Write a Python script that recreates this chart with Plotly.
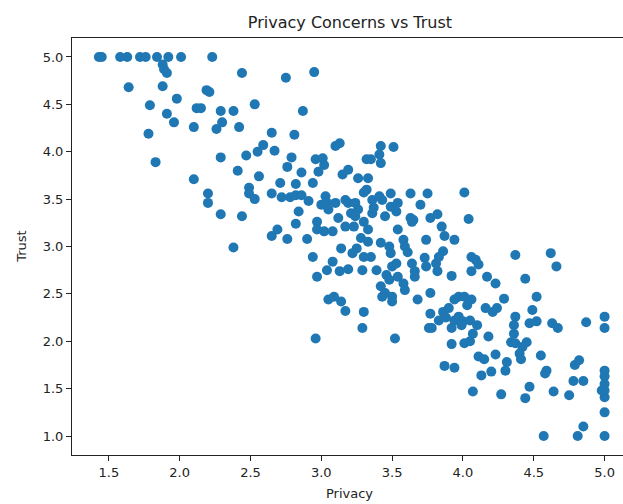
import plotly.graph_objects as go

# Survey scores: privacy concern (x) and trust (y), one entry per respondent
privacy = [
    1.43, 1.45, 1.58, 1.63, 1.72, 1.76, 1.84, 1.92, 2.01, 2.23,
    1.88, 1.89, 1.91, 1.64, 1.88, 2.44, 2.75, 2.95,
    2.19, 2.21, 1.79, 1.98, 1.91, 1.96, 1.78, 1.83,
    2.10, 2.12, 2.15, 2.29, 2.38, 2.53, 2.87,
    2.26, 2.30, 2.42, 2.65, 2.81, 2.29, 2.47, 2.41, 2.10,
    2.55, 2.59, 2.67, 2.79, 2.76, 2.86, 2.96, 3.01, 3.02, 2.98,
    3.10, 3.13, 2.56, 2.49, 2.49, 2.53, 2.20, 2.20, 2.29, 2.44, 2.38,
    2.65, 2.71, 2.82, 2.72, 2.78, 2.82, 2.86, 2.91, 2.94, 2.84, 2.82,
    2.65, 2.69, 2.76, 2.90, 2.94, 2.97, 2.96, 2.97, 2.97, 3.02, 3.08,
    3.03, 3.04, 3.05, 3.10, 3.15, 3.19, 3.26, 3.33, 3.32, 3.30,
    3.41, 3.35, 3.32, 3.42, 3.42, 3.51, 3.36, 3.41, 3.43, 3.37, 3.36,
    3.49, 3.49, 3.54, 3.53, 3.45, 3.17, 3.19, 3.24, 3.26, 3.21, 3.24,
    3.12, 3.17, 3.23, 3.30, 3.33, 3.28, 3.33, 3.14, 3.25, 3.22, 3.35, 3.30,
    3.08, 3.04, 3.13, 3.19, 3.29, 3.39, 3.42, 3.48, 3.49, 3.54, 3.58,
    3.53, 3.50, 3.46, 3.48, 3.54, 3.58, 3.59, 3.42, 3.45, 3.43, 3.50, 3.50,
    3.05, 3.09, 3.14, 3.17, 3.30, 3.29, 3.52,
    3.64, 3.61, 3.59, 3.64, 3.63, 3.65, 3.63, 3.70, 3.75, 3.77, 3.82,
    3.85, 3.87, 3.94, 3.74, 3.73, 3.74, 3.81, 3.82, 3.86, 3.83, 3.66, 3.66,
    3.68, 3.77, 3.92, 4.01, 4.04, 3.77, 3.83, 3.76, 3.78, 3.92, 3.87, 3.94,
    3.90, 3.94, 3.97, 4.01, 4.06, 4.03, 3.97, 4.00, 3.94, 3.92, 3.99, 4.05,
    4.01, 4.05, 4.07, 4.10, 4.06, 4.09, 4.11, 4.06, 4.17, 4.23, 4.16, 4.21,
    4.24, 4.29, 4.18, 4.11, 4.15, 4.23, 4.13, 4.20, 4.07, 4.27, 4.30, 4.31,
    4.37, 4.36, 4.36, 4.34, 4.37, 4.42, 4.45, 4.40, 4.41, 4.37, 4.44, 4.52,
    4.49, 4.47, 4.52, 4.55, 4.59, 4.58, 4.47, 4.44, 4.57, 4.62, 4.66, 4.63,
    4.67, 4.64, 4.75, 4.78, 4.79, 4.82, 4.85, 4.87, 4.81, 4.85,
    5.00, 5.00, 5.00, 5.00, 5.00, 5.00, 5.00, 5.00, 5.00, 4.98,
    3.00, 3.86, 3.88,
]
trust = [
    5.00, 5.00, 5.00, 5.00, 5.00, 5.00, 5.00, 5.00, 5.00, 5.00,
    4.92, 4.87, 4.83, 4.68, 4.69, 4.83, 4.78, 4.84,
    4.65, 4.63, 4.49, 4.56, 4.40, 4.31, 4.19, 3.89,
    4.26, 4.46, 4.46, 4.43, 4.43, 4.50, 4.43,
    4.24, 4.31, 4.26, 4.20, 4.18, 3.94, 3.96, 3.80, 3.71,
    4.00, 4.07, 4.01, 3.94, 3.84, 3.78, 3.92, 3.93, 3.86, 3.79,
    4.06, 4.09, 3.74, 3.62, 3.56, 3.50, 3.56, 3.46, 3.34, 3.32, 2.99,
    3.56, 3.67, 3.66, 3.52, 3.52, 3.54, 3.54, 3.48, 3.67, 3.37, 3.24,
    3.11, 3.18, 3.08, 3.08, 2.89, 2.68, 2.03, 3.26, 3.18, 3.16, 3.16,
    3.53, 3.46, 3.39, 3.46, 3.76, 3.81, 3.72, 3.72, 3.60, 3.57,
    3.97, 3.92, 3.92, 3.88, 4.06, 4.05, 3.49, 3.53, 3.49, 3.41, 3.35,
    3.56, 3.42, 3.46, 3.37, 3.32, 3.49, 3.46, 3.46, 3.39, 3.35, 3.32,
    3.30, 3.21, 3.21, 3.26, 3.18, 3.09, 3.05, 2.98, 2.98, 2.93, 2.89, 2.89,
    2.84, 2.75, 2.74, 2.76, 2.75, 2.75, 3.04, 3.00, 2.93, 3.18, 3.07,
    2.82, 2.79, 2.70, 2.65, 2.68, 2.61, 2.54, 2.58, 2.51, 2.47, 2.47, 2.42,
    2.44, 2.47, 2.42, 2.32, 2.31, 2.14, 2.03,
    2.82, 2.94, 3.00, 3.26, 3.30, 3.28, 3.56, 3.44, 3.56, 3.30, 3.34,
    3.21, 3.11, 3.07, 3.07, 2.88, 2.79, 2.82, 2.74, 2.95, 2.89, 2.74, 2.68,
    2.44, 2.51, 2.69, 3.57, 3.29, 2.29, 2.22, 2.14, 2.14, 1.97, 1.74, 1.72,
    2.35, 2.44, 2.47, 2.47, 2.44, 2.38, 2.26, 2.21, 2.22, 2.14, 2.17, 2.22,
    1.98, 2.00, 2.08, 2.17, 2.89, 2.86, 2.81, 2.74, 2.68, 2.61, 2.35, 2.31,
    2.35, 2.45, 2.05, 1.84, 1.81, 1.86, 1.64, 1.68, 1.47, 1.44, 1.69, 1.78,
    2.26, 2.17, 2.08, 1.99, 1.98, 1.94, 1.99, 1.87, 1.81, 2.91, 2.66, 2.47,
    2.33, 2.19, 2.21, 1.85, 1.69, 1.66, 1.52, 1.40, 1.00, 2.93, 2.79, 2.19,
    2.14, 1.47, 1.43, 1.58, 1.75, 1.80, 1.58, 2.20, 1.00, 1.10,
    1.00, 1.25, 1.41, 1.48, 1.55, 1.63, 1.69, 2.26, 2.14, 1.48,
    3.44, 2.31, 2.25,
]

x_ticks = [1.5, 2.0, 2.5, 3.0, 3.5, 4.0, 4.5, 5.0]
y_ticks = [1.0, 1.5, 2.0, 2.5, 3.0, 3.5, 4.0, 4.5, 5.0]

FONT = "DejaVu Sans"
INK = "#222222"

fig = go.Figure(
    go.Scatter(
        x=privacy,
        y=trust,
        mode="markers",
        marker=dict(color="#1f77b4", size=10, line=dict(width=0)),
        hoverinfo="x+y",
    )
)

axis_common = dict(
    showgrid=False,
    zeroline=False,
    showline=True,
    linecolor=INK,
    linewidth=1,
    ticks="outside",
    ticklen=5,
    tickwidth=1,
    tickcolor=INK,
    tickfont=dict(family=FONT, size=13, color=INK),
    tickformat=".1f",
)

fig.update_xaxes(
    range=[1.24, 5.13],
    tickvals=x_ticks,
    mirror=True,
    **axis_common,
)
fig.update_yaxes(
    range=[0.8, 5.2],
    tickvals=y_ticks,
    mirror=False,
    **axis_common,
)

fig.update_layout(
    width=623,
    height=504,
    margin=dict(l=72, r=0, t=38, b=49),
    paper_bgcolor="white",
    plot_bgcolor="white",
    showlegend=False,
    title=dict(
        text="Privacy Concerns vs Trust",
        x=350 / 623,
        xref="container",
        xanchor="center",
        y=1 - 22 / 504,
        yref="container",
        yanchor="middle",
        font=dict(family=FONT, size=16, color=INK),
    ),
    annotations=[
        dict(
            text="Privacy",
            xref="paper", yref="paper",
            x=0.5045, y=-0.092,
            xanchor="center", yanchor="middle",
            showarrow=False,
            font=dict(family=FONT, size=13, color=INK),
        ),
        dict(
            text="Trust",
            xref="paper", yref="paper",
            x=-0.092, y=0.5,
            xanchor="center", yanchor="middle",
            textangle=-90,
            showarrow=False,
            font=dict(family=FONT, size=13, color=INK),
        ),
    ],
)

fig.write_html("out.html")
